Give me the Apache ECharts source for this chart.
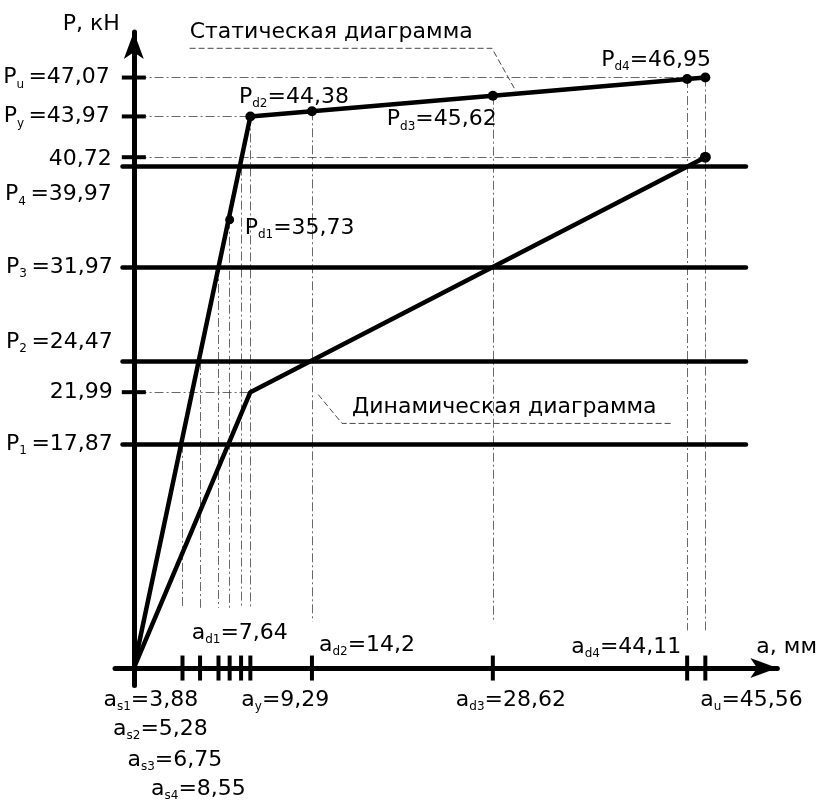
<!DOCTYPE html>
<html><head><meta charset="utf-8">
<script src="https://cdn.jsdelivr.net/npm/echarts@6/dist/echarts.min.js"></script>
<style>html,body{margin:0;padding:0;background:#fff}#c{width:820px;height:805px}</style>
</head><body><div id="c"></div>
<script>
// ---------------- data ----------------
const staticA = [0, 9.29, 14.2, 28.62, 44.11, 45.56];
const staticP = [0, 43.97, 44.38, 45.62, 46.95, 47.07];
const dynamicA = [0, 9.29, 45.56];
const dynamicP = [0, 21.99, 40.72];
const levelNames = ['1', '2', '3', '4'];
const levelP = [17.87, 24.47, 31.97, 39.97];
const levelSpan = [-0.9, 48.8];
const pMarkNames = ['u', 'y', '', ''];
const pMarks = [47.07, 43.97, 40.72, 21.99];
const pMarkGuideEnd = [45.56, 9.29, 45.56, 9.29];
const aTickNames = ['s1', 's2', 's3', 'd1', 's4', 'y', 'd2', 'd3', 'd4', 'u'];
const aTicks = [3.88, 5.28, 6.75, 7.64, 8.55, 9.29, 14.2, 28.62, 44.11, 45.56];
const aGuideTop = [17.87, 24.47, 31.97, 35.73, 39.97, 43.97, 44.38, 45.62, 46.95, 47.07];
const aGuideBottom = [4.8, 4.8, 4.8, 4.8, 4.8, 4.8, 3.7, 3.7, 3.0, 3.0];
const pdNames = ['d1', 'd2', 'd3', 'd4'];
const pdA = [7.64, 14.2, 28.62, 44.11];
const pdP = [35.73, 44.38, 45.62, 46.95];
const staticLabel = 'Статическая диаграмма';
const dynamicLabel = 'Динамическая диаграмма';
const staticLeader = [[4.45, 49.4], [28.55, 49.4], [30.45, 46.0]];
const dynamicLeader = [[14.7, 21.8], [16.6, 19.5], [43.0, 19.5]];
const yAxisName = 'P, кН';
const xAxisName = 'a, мм';

// ---------------- styles ----------------
const FONT = 'DejaVu Sans';
const FS = 22;
const rich = {
  m: { fontFamily: FONT, fontSize: FS, color: '#000', lineHeight: 26 },
  s: { fontFamily: FONT, fontSize: 12, color: '#000', lineHeight: 10, verticalAlign: 'bottom' }
};
const levelLabelOffsets = [[-21, 0], [-21, -19], [-21, 0], [-22, 28]];
const pMarkLabelOffsets = [[-24, 0], [-24, 0], [-22, 2], [-21, 0]];
const aLabelOffsets = [[-79, 32], [-87, 61], [-91, 92], [-38, -35], [-90, 121], [-9, 32], [7, -23], [-37, 32], [-116, -21], [-5, 32]];
const pdLabelOffsets = [[15, 8], [-73, -14], [-106, 24], [-86, -19]];
const fmt = v => String(v).replace('.', ',');
const sub = (base, s, rest) => '{m|' + base + '}' + (s ? '{s|' + s + '}' : '') + '{m|' + rest + '}';

function labelItem(x, y, text, off, align) {
  return {
    value: [x, y],
    label: { show: true, position: 'inside', align: align || 'left', verticalAlign: 'middle',
      offset: off, formatter: text, rich: rich, color: '#000', opacity: 1 }
  };
}

const labelData = [];
levelP.forEach((p, i) => labelData.push(labelItem(0, p, sub('P', levelNames[i], '\u2009=' + fmt(p)), levelLabelOffsets[i], 'right')));
pMarks.forEach((p, i) => labelData.push(labelItem(0, p,
  pMarkNames[i] ? sub('P', pMarkNames[i], '\u2009=' + fmt(p)) : '{m|' + fmt(p) + '}', pMarkLabelOffsets[i], 'right')));
aTicks.forEach((a, i) => labelData.push(labelItem(a, 0, sub('a', aTickNames[i], '=' + fmt(a)), aLabelOffsets[i])));
pdA.forEach((a, i) => labelData.push(labelItem(a, pdP[i], sub('P', pdNames[i], '=' + fmt(pdP[i])), pdLabelOffsets[i])));
labelData.push(labelItem(staticLeader[0][0], staticLeader[0][1], '{m|' + staticLabel + '}', [0, -16]));
labelData.push(labelItem(dynamicLeader[1][0], dynamicLeader[1][1], '{m|' + dynamicLabel + '}', [10, -16]));

const guides = [];
aTicks.forEach((a, i) => guides.push({ coords: [[a, aGuideTop[i]], [a, aGuideBottom[i]]] }));
pMarks.forEach((p, i) => guides.push({ coords: [[0.3, p], [pMarkGuideEnd[i], p]] }));

const levels = levelP.map(p => ({ coords: [[levelSpan[0], p], [levelSpan[1], p]] }));

const tickData = aTicks.map(a => ({ value: [a, 0], symbolSize: [4, 25] }))
  .concat(pMarks.map(p => ({ value: [0, p], symbolSize: [24, 4] })));

const dotted = { color: '#444', width: 1, type: [9, 3, 2, 3], opacity: 0.8 };

const option = {
  animation: false,
  backgroundColor: '#fff',
  grid: { left: 115, right: 41, top: 32, bottom: 119.4, containLabel: false },
  xAxis: {
    type: 'value', min: -1.5, max: 51.3,
    name: xAxisName, nameLocation: 'end', nameGap: -21,
    nameTextStyle: { fontFamily: FONT, fontSize: FS, color: '#000', align: 'left', verticalAlign: 'bottom', padding: [0, 0, 10, 0] },
    axisLine: { onZero: true, symbol: ['none', 'arrow'], symbolSize: [15, 27], lineStyle: { color: '#000', width: 5 } },
    axisTick: { show: false }, axisLabel: { show: false }, splitLine: { show: false }
  },
  yAxis: {
    type: 'value', min: -1.4, max: 50.7,
    name: yAxisName, nameLocation: 'end', nameGap: 8,
    nameTextStyle: { fontFamily: FONT, fontSize: FS, color: '#000', align: 'right', verticalAlign: 'middle', padding: [0, 14, 0, 0] },
    axisLine: { onZero: true, symbol: ['none', 'arrow'], symbolSize: [15, 27], lineStyle: { color: '#000', width: 5 } },
    axisTick: { show: false }, axisLabel: { show: false }, splitLine: { show: false }
  },
  series: [
    { type: 'lines', coordinateSystem: 'cartesian2d', data: guides, lineStyle: dotted, silent: true, z: 1 },
    { type: 'lines', coordinateSystem: 'cartesian2d', polyline: true,
      data: [{ coords: staticLeader }, { coords: dynamicLeader }], lineStyle: { color: '#333', width: 1, type: [6, 3], opacity: 0.9 }, silent: true, z: 1 },
    { type: 'lines', coordinateSystem: 'cartesian2d', data: levels, lineStyle: { color: '#000', width: 4.5, opacity: 1, cap: 'round' }, silent: true, z: 2 },
    { type: 'line', data: staticA.map((a, i) => i === 0 ? { value: [a, staticP[i]], symbol: 'none' } : [a, staticP[i]]),
      symbol: 'circle', symbolSize: 10, lineStyle: { color: '#000', width: 4.5 }, itemStyle: { color: '#000', opacity: 1 }, z: 3 },
    { type: 'line', data: dynamicA.map((a, i) => i === dynamicA.length - 1 ? { value: [a, dynamicP[i]], symbol: 'circle', symbolSize: 11 } : { value: [a, dynamicP[i]], symbol: 'none' }),
      lineStyle: { color: '#000', width: 4.5 }, itemStyle: { color: '#000', opacity: 1 }, z: 3 },
    { type: 'scatter', data: [[pdA[0], pdP[0]]], symbolSize: 9, itemStyle: { color: '#000', opacity: 1 }, z: 4 },
    { type: 'scatter', data: tickData, symbol: 'rect', itemStyle: { color: '#000', opacity: 1 }, z: 4 },
    { type: 'scatter', data: labelData, symbolSize: 1, itemStyle: { color: 'rgba(0,0,0,0)', opacity: 1 }, z: 5, silent: true }
  ]
};
echarts.init(document.getElementById('c')).setOption(option);
</script></body></html>
